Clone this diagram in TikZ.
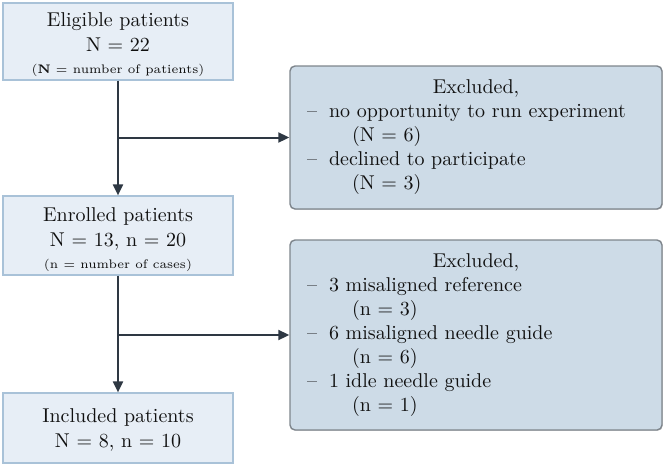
\documentclass[tikz,border=0pt]{standalone}
\usepackage{tikz}
\usetikzlibrary{arrows.meta,shadows}
\definecolor{leftfill}{HTML}{E7EEF6}
\definecolor{leftline}{HTML}{A9C2D8}
\definecolor{exfill}{HTML}{CDDBE7}
\definecolor{exline}{HTML}{7E858C}
\definecolor{arrowcol}{HTML}{2E3843}
\definecolor{txt}{HTML}{111111}
\newcommand{\exitem}{--\hspace{6pt}}

\begin{document}
\begin{tikzpicture}[x=0.5pt, y=-0.5pt,
    patbox/.style={draw=leftline, fill=leftfill, line width=0.6pt,
        minimum width=115pt, inner ysep=0.5pt, align=center, text=txt,
        font=\fontsize{10}{12.4}\selectfont},
    exbox/.style={draw=exline, fill=exfill, line width=0.7pt, rounded corners=2.5pt,
        minimum width=186pt, text width=169pt, inner xsep=8.5pt, align=left, text=txt,
        font=\fontsize{10}{12}\selectfont,
        drop shadow={shadow xshift=0.4pt, shadow yshift=-0.4pt, opacity=0.35}},
    flow/.style={draw=arrowcol, line width=1pt, -{Triangle[length=5.5pt,width=5pt]}}]
    \useasboundingbox (0,0) rectangle (665,467);

    % Patient boxes
    \node[patbox, minimum height=38.5pt] (elig) at (118,41.5)
        {\rule{0pt}{10pt}Eligible patients\\N = 22\\[-1.5pt]{\fontsize{6.2}{8}\selectfont(\textbf{N} = number of patients)}};
    \node[patbox, minimum height=39.5pt] (enr) at (118,235.5)
        {\rule{0pt}{11pt}Enrolled patients\\N = 13, n = 20\\[-1.5pt]{\fontsize{6.2}{8}\selectfont(n = number of cases)}};
    \node[patbox, minimum height=35pt] (incl) at (118,428)
        {\rule{0pt}{9pt}Included patients\\N = 8, n = 10};

    % Exclusion boxes
    \node[exbox, minimum height=71.5pt] (ex1) at (476,137.5)
        {\hfil Excluded,\hfil\\
         \exitem no opportunity to run experiment\\
         \hspace*{22.5pt}(N = 6)\\
         \exitem declined to participate\\
         \hspace*{22.5pt}(N = 3)};
    \node[exbox, minimum height=95pt] (ex2) at (476,335)
        {\hfil Excluded,\hfil\\
         \exitem 3 misaligned reference\\
         \hspace*{22.5pt}(n = 3)\\
         \exitem 6 misaligned needle guide\\
         \hspace*{22.5pt}(n = 6)\\
         \exitem 1 idle needle guide\\
         \hspace*{22.5pt}(n = 1)};

    % Arrows
    \draw[flow] (elig) -- (enr);
    \draw[flow] (enr) -- (incl);
    \coordinate (b1) at (elig.south |- ex1.west);
    \coordinate (b2) at (enr.south |- ex2.west);
    \draw[flow] (b1) -- (ex1.west);
    \draw[flow] (b2) -- (ex2.west);
\end{tikzpicture}
\end{document}
